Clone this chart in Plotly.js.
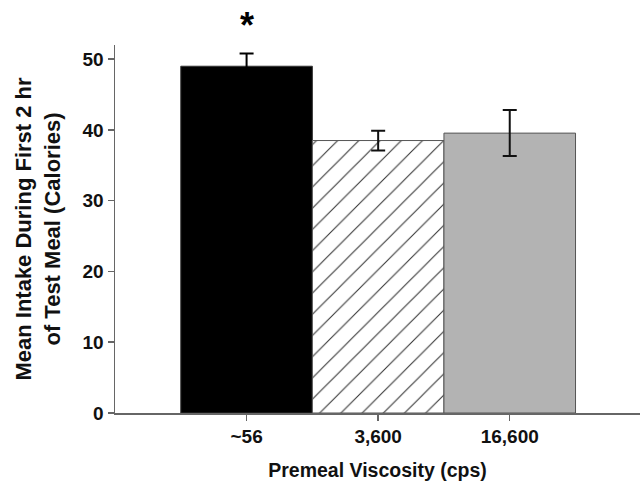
<!DOCTYPE html>
<html>
<head>
<meta charset="utf-8">
<script src="https://cdn.plot.ly/plotly-3.0.1.min.js"></script>
<style>html,body{margin:0;padding:0;background:#fff;}</style>
</head>
<body>
<div id="chart" style="width:640px;height:492px;"></div>
<script>
const categories = ["~56", "3,600", "16,600"];
const meanIntake = [49.0, 38.5, 39.55];
const stdError = [1.8, 1.4, 3.25];
const significance = ["*", "", ""];

const FAM = "Liberation Sans, Arial, sans-serif";
const fnt = {family: FAM, size: 19, color: "#111", weight: "bold"};

const traces = [
  {
    type: "bar",
    x: [categories[0]], y: [meanIntake[0]],
    error_y: {type: "data", array: [stdError[0]], color: "#000", thickness: 2, width: 7},
    marker: {color: "#000", line: {color: "#333", width: 1}},
    hoverinfo: "none"
  },
  {
    type: "bar",
    x: [categories[1]], y: [meanIntake[1]],
    error_y: {type: "data", array: [stdError[1]], color: "#111", thickness: 2, width: 7},
    marker: {color: "#fff", line: {color: "#555", width: 1},
      pattern: {shape: "/", fgcolor: "#333", bgcolor: "#fff", size: 15, solidity: 0.07}},
    hoverinfo: "none"
  },
  {
    type: "bar",
    x: [categories[2]], y: [meanIntake[2]],
    error_y: {type: "data", array: [stdError[2]], color: "#111", thickness: 2, width: 7},
    marker: {color: "#b3b3b3", line: {color: "#555", width: 1}},
    hoverinfo: "none"
  }
];

const annotations = categories.map((c, i) => significance[i] ? {
  x: c, y: meanIntake[i] + stdError[i], xref: "x", yref: "y",
  text: significance[i], showarrow: false, yanchor: "bottom", yshift: 5,
  font: {family: FAM, size: 36, color: "#000", weight: "bold"}
} : null).filter(a => a);

const layout = {
  width: 640, height: 492,
  margin: {l: 115, r: 0, t: 45, b: 79},
  paper_bgcolor: "#fff", plot_bgcolor: "#fff",
  showlegend: false,
  barmode: "group", bargap: 0, bargroupgap: 0,
  font: fnt,
  xaxis: {
    type: "category", categoryarray: categories, range: [-1, 2.99],
    showline: true, linecolor: "#666", linewidth: 1.5,
    ticks: "outside", ticklen: 6, tickcolor: "#666", tickwidth: 1.5,
    showgrid: false, zeroline: false,
    tickfont: fnt,
    title: {text: "Premeal Viscosity (cps)", font: {family: FAM, size: 19.5, color: "#111", weight: "bold"}, standoff: 17}
  },
  yaxis: {
    range: [0, 52], tickvals: [0, 10, 20, 30, 40, 50],
    showline: true, linecolor: "#666", linewidth: 1.5,
    ticks: "outside", ticklen: 6, tickcolor: "#666", tickwidth: 1.5,
    showgrid: false, zeroline: false,
    tickfont: fnt,
    title: {text: "Mean Intake During First 2 hr<br>of Test Meal (Calories)", font: {family: FAM, size: 22, color: "#111", weight: "bold"}, standoff: 16}
  },
  annotations: annotations
};

Plotly.newPlot("chart", traces.map(t => Object.assign(t, {width: 1})), layout, {displayModeBar: false, staticPlot: true});
</script>
</body>
</html>
